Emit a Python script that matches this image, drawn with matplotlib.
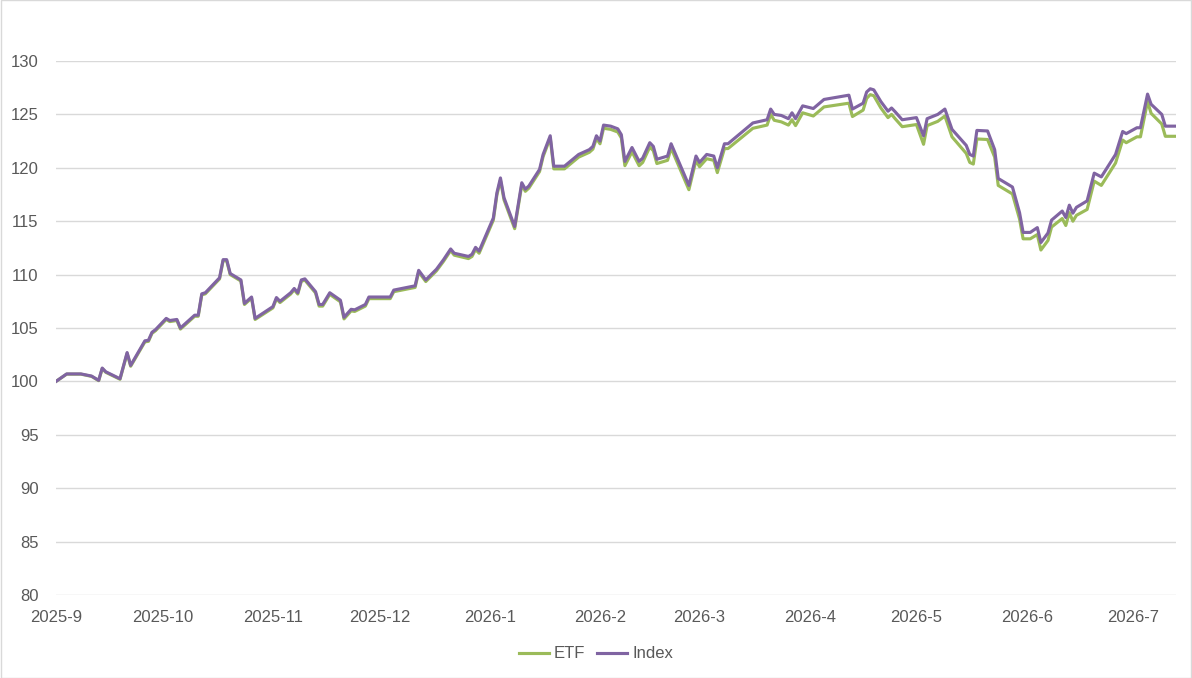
import matplotlib
matplotlib.use("Agg")
import matplotlib.pyplot as plt
import matplotlib.dates as mdates
from matplotlib.ticker import FuncFormatter
from matplotlib.patches import Rectangle
import pandas as pd

dates = [
    "2025-09-01", "2025-09-04", "2025-09-08", "2025-09-11", "2025-09-13", "2025-09-14", "2025-09-15",
    "2025-09-19", "2025-09-21", "2025-09-22", "2025-09-26", "2025-09-27", "2025-09-28", "2025-09-29",
    "2025-10-02", "2025-10-03", "2025-10-05", "2025-10-06", "2025-10-10", "2025-10-11", "2025-10-12",
    "2025-10-13", "2025-10-17", "2025-10-18", "2025-10-19", "2025-10-20", "2025-10-23", "2025-10-24",
    "2025-10-26", "2025-10-27", "2025-11-01", "2025-11-02", "2025-11-03", "2025-11-06", "2025-11-07",
    "2025-11-08", "2025-11-09", "2025-11-10", "2025-11-13", "2025-11-14", "2025-11-15", "2025-11-17",
    "2025-11-20", "2025-11-21", "2025-11-23", "2025-11-24", "2025-11-27", "2025-11-28", "2025-12-04",
    "2025-12-05", "2025-12-11", "2025-12-12", "2025-12-14", "2025-12-17", "2025-12-19", "2025-12-21",
    "2025-12-22", "2025-12-26", "2025-12-27", "2025-12-28", "2025-12-29", "2026-01-02", "2026-01-03",
    "2026-01-04", "2026-01-05", "2026-01-08", "2026-01-10", "2026-01-11", "2026-01-12", "2026-01-15",
    "2026-01-16", "2026-01-18", "2026-01-19", "2026-01-22", "2026-01-26", "2026-01-29", "2026-01-30",
    "2026-01-31", "2026-02-01", "2026-02-02", "2026-02-04", "2026-02-06", "2026-02-07", "2026-02-08",
    "2026-02-10", "2026-02-12", "2026-02-13", "2026-02-15", "2026-02-16", "2026-02-17", "2026-02-20",
    "2026-02-21", "2026-02-26", "2026-02-28", "2026-03-01", "2026-03-03", "2026-03-05", "2026-03-06",
    "2026-03-08", "2026-03-09", "2026-03-16", "2026-03-20", "2026-03-21", "2026-03-22", "2026-03-24",
    "2026-03-26", "2026-03-27", "2026-03-28", "2026-03-30", "2026-04-02", "2026-04-05", "2026-04-12",
    "2026-04-13", "2026-04-16", "2026-04-17", "2026-04-18", "2026-04-19", "2026-04-21", "2026-04-23",
    "2026-04-24", "2026-04-25", "2026-04-27", "2026-05-01", "2026-05-03", "2026-05-04", "2026-05-07",
    "2026-05-09", "2026-05-11", "2026-05-15", "2026-05-16", "2026-05-17", "2026-05-18", "2026-05-21",
    "2026-05-23", "2026-05-24", "2026-05-28", "2026-05-30", "2026-05-31", "2026-06-02", "2026-06-04",
    "2026-06-05", "2026-06-07", "2026-06-08", "2026-06-11", "2026-06-12", "2026-06-13", "2026-06-14",
    "2026-06-15", "2026-06-18", "2026-06-20", "2026-06-22", "2026-06-26", "2026-06-28", "2026-06-29",
    "2026-07-02", "2026-07-03", "2026-07-05", "2026-07-06", "2026-07-09", "2026-07-10", "2026-07-13",
]

index_vals = [
    100.0, 100.7, 100.7, 100.5, 100.1, 101.25, 100.9,
    100.25, 102.7, 101.5, 103.8, 103.85, 104.6, 104.85,
    105.9, 105.7, 105.8, 105.0, 106.2, 106.2, 108.2,
    108.3, 109.7, 111.4, 111.4, 110.1, 109.5, 107.3,
    107.9, 105.9, 107.0, 107.85, 107.5, 108.3, 108.7,
    108.3, 109.5, 109.6, 108.4, 107.2, 107.2, 108.3,
    107.6, 106.0, 106.75, 106.7, 107.2, 107.9, 107.9,
    108.55, 108.95, 110.4, 109.5, 110.5, 111.4, 112.4,
    112.0, 111.7, 111.9, 112.55, 112.2, 115.3, 117.65,
    119.05, 117.2, 114.5, 118.6, 118.0, 118.3, 119.85,
    121.25, 123.0, 120.15, 120.15, 121.25, 121.7, 122.0,
    123.0, 122.5, 124.0, 123.9, 123.65, 123.1, 120.6,
    121.9, 120.6, 120.9, 122.35, 122.0, 120.8, 121.1,
    122.25, 118.35, 121.1, 120.5, 121.25, 121.1, 120.0,
    122.25, 122.25, 124.2, 124.5, 125.5, 125.0, 124.9,
    124.6, 125.15, 124.6, 125.8, 125.55, 126.4, 126.8,
    125.5, 126.05, 127.1, 127.4, 127.3, 126.2, 125.3,
    125.6, 125.25, 124.5, 124.7, 123.0, 124.6, 125.0,
    125.5, 123.6, 122.1, 121.25, 121.1, 123.5, 123.45,
    121.7, 119.0, 118.2, 115.8, 113.95, 113.95, 114.4,
    113.0, 113.9, 115.1, 115.95, 115.35, 116.5, 115.75,
    116.3, 116.9, 119.5, 119.15, 121.25, 123.4, 123.2,
    123.75, 123.75, 126.9, 125.95, 125.0, 123.9, 123.9,
]

etf_vals = [
    100.0, 100.68, 100.68, 100.47, 100.07, 101.2, 100.85,
    100.2, 102.62, 101.42, 103.7, 103.75, 104.5, 104.75,
    105.8, 105.6, 105.7, 104.9, 106.1, 106.1, 108.1,
    108.2, 109.6, 111.3, 111.3, 110.0, 109.4, 107.2,
    107.8, 105.8, 106.88, 107.73, 107.38, 108.18, 108.58,
    108.18, 109.38, 109.48, 108.28, 107.05, 107.05, 108.15,
    107.45, 105.85, 106.6, 106.55, 107.05, 107.75, 107.75,
    108.4, 108.8, 110.25, 109.35, 110.35, 111.25, 112.25,
    111.82, 111.5, 111.7, 112.35, 112.0, 115.1, 117.45,
    118.85, 117.0, 114.3, 118.4, 117.8, 118.1, 119.65,
    121.05, 122.8, 119.9, 119.9, 121.0, 121.45, 121.75,
    122.75, 122.25, 123.7, 123.6, 123.35, 122.8, 120.2,
    121.5, 120.2, 120.5, 121.95, 121.6, 120.4, 120.7,
    121.85, 117.95, 120.7, 120.1, 120.85, 120.7, 119.55,
    121.8, 121.8, 123.7, 124.0, 125.0, 124.45, 124.3,
    124.0, 124.5, 123.95, 125.15, 124.85, 125.7, 126.05,
    124.8, 125.4, 126.5, 126.85, 126.75, 125.6, 124.7,
    125.0, 124.6, 123.85, 124.05, 122.2, 123.95, 124.35,
    124.85, 122.9, 121.35, 120.5, 120.35, 122.7, 122.65,
    121.0, 118.35, 117.55, 115.2, 113.35, 113.35, 113.75,
    112.3, 113.2, 114.45, 115.25, 114.6, 115.8, 115.0,
    115.55, 116.1, 118.75, 118.35, 120.45, 122.6, 122.35,
    122.9, 122.9, 126.2, 125.1, 124.1, 122.95, 122.95,
]

y_ticks = [80, 85, 90, 95, 100, 105, 110, 115, 120, 125, 130]
series_names = ["ETF", "Index"]

x = pd.to_datetime(dates)

plt.rcParams['font.family'] = ['Liberation Sans', 'DejaVu Sans']

fig = plt.figure(figsize=(11.92, 6.78), dpi=100)
W, H = 1192, 678
left, right, top, bottom = 56, 1176, 61, 595
ax = fig.add_axes([left / W, 1 - bottom / H, (right - left) / W, (bottom - top) / H])

ax.plot(x, etf_vals, color="#9BBB59", lw=2.25, label=series_names[0], solid_joinstyle="round")
ax.plot(x, index_vals, color="#8064A2", lw=2.25, label=series_names[1], solid_joinstyle="round")

ax.set_ylim(80, 130)
ax.set_yticks(y_ticks)
ax.set_xlim(pd.Timestamp("2025-09-01"), pd.Timestamp("2026-07-13"))
ax.xaxis.set_major_locator(mdates.MonthLocator())
ax.xaxis.set_major_formatter(FuncFormatter(lambda v, p: f"{mdates.num2date(v).year}-{mdates.num2date(v).month}"))

ax.grid(axis="y", color="#D9D9D9", lw=1)
ax.set_axisbelow(True)
for s in ax.spines.values():
    s.set_visible(False)
ax.tick_params(axis="both", length=0, colors="#595959", labelsize=12)
ax.tick_params(axis="y", pad=12.5)
ax.tick_params(axis="x", pad=11)

leg = fig.legend(loc="center", bbox_to_anchor=(0.5, 1 - 654 / H), ncol=2, frameon=False,
                 fontsize=12, handlelength=1.8, handletextpad=0.3, columnspacing=0.7)
for t in leg.get_texts():
    t.set_color("#595959")

fig.patches.append(Rectangle((0.0005, 0.0005), 0.999, 0.999, transform=fig.transFigure,
                             fill=False, edgecolor="#D9D9D9", lw=1))

fig.savefig("out.png", dpi=100)
